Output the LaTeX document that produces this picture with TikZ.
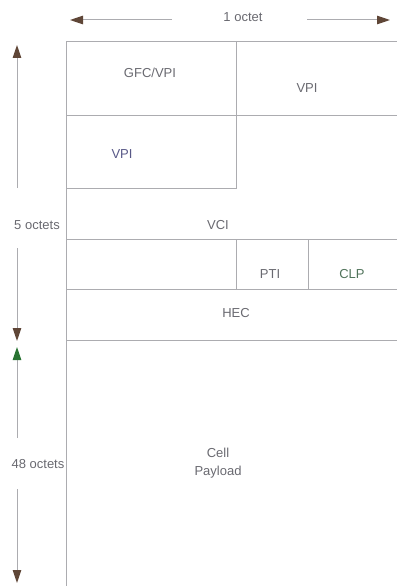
\documentclass[tikz,border=0pt]{standalone}
\usepackage{fontspec}
\setmainfont{Liberation Sans}
\usetikzlibrary{arrows.meta}
\definecolor{linegrey}{RGB}{172,172,176}
\definecolor{txtgrey}{RGB}{105,105,112}
\definecolor{txtblue}{RGB}{88,88,135}
\definecolor{txtgreen}{RGB}{80,115,90}
\definecolor{headbrown}{RGB}{95,70,55}
\definecolor{headgreen}{RGB}{40,115,50}
\tikzset{
  frame/.style={draw=linegrey, line width=0.9pt},
  lbl/.style={text=txtgrey, font=\fontsize{13}{15}\selectfont, inner sep=0pt},
  dimline/.style={draw=linegrey, line width=1pt},
  tipbrown/.style={-{Triangle[length=13pt,width=8.5pt,color=headbrown]}},
  tipgreen/.style={-{Triangle[length=13pt,width=8.5pt,color=headgreen]}},
}
\begin{document}
\begin{tikzpicture}[x=1pt,y=-1pt]
\useasboundingbox (0,0) rectangle (397,586);
% frame lines
\draw[frame] (66,586) -- (66,41) -- (397,41);
\draw[frame] (236,41) -- (236,188) -- (66,188);
\draw[frame] (66,115) -- (397,115);
\draw[frame] (66,239) -- (397,239);
\draw[frame] (236,239) -- (236,289);
\draw[frame] (308,239) -- (308,289);
\draw[frame] (66,289) -- (397,289);
\draw[frame] (66,340) -- (397,340);
% labels
\node[lbl] (gfc) at (150,73) {GFC/VPI};
\node[lbl] (vpi1) at (307,88) {VPI};
\node[lbl, text=txtblue] (vpi2) at (122,154) {VPI};
\node[lbl] (vci) at (218,225) {VCI};
\node[lbl] (pti) at (270,274) {PTI};
\node[lbl, text=txtgreen] (clp) at (352,274) {CLP};
\node[lbl] (hec) at (236,313) {HEC};
\node[lbl, align=center] (pay) at (218,463) {Cell\\[3pt]Payload};
\node[lbl] (oct1) at (243,17) {1 octet};
\node[lbl] (oct5) at (37,225) {5 octets};
\node[lbl] (oct48) at (38,464) {48 octets};
% top dimension arrow
\coordinate (tl1) at (172,20);
\coordinate (tl2) at (70,20);
\coordinate (tr1) at (307,20);
\coordinate (tr2) at (390,20);
\draw[dimline, tipbrown] (tl1) -- (tl2);
\draw[dimline, tipbrown] (tr1) -- (tr2);
% left dimension arrows
\coordinate (a1s) at (17,188);
\coordinate (a1e) at (17,45);
\coordinate (a2s) at (17,248);
\coordinate (a2e) at (17,341);
\coordinate (a3s) at (17,438);
\coordinate (a3e) at (17,347);
\coordinate (a4s) at (17,489);
\coordinate (a4e) at (17,583);
\draw[dimline, tipbrown] (a1s) -- (a1e);
\draw[dimline, tipbrown] (a2s) -- (a2e);
\draw[dimline, tipgreen] (a3s) -- (a3e);
\draw[dimline, tipbrown] (a4s) -- (a4e);
\end{tikzpicture}
\end{document}
